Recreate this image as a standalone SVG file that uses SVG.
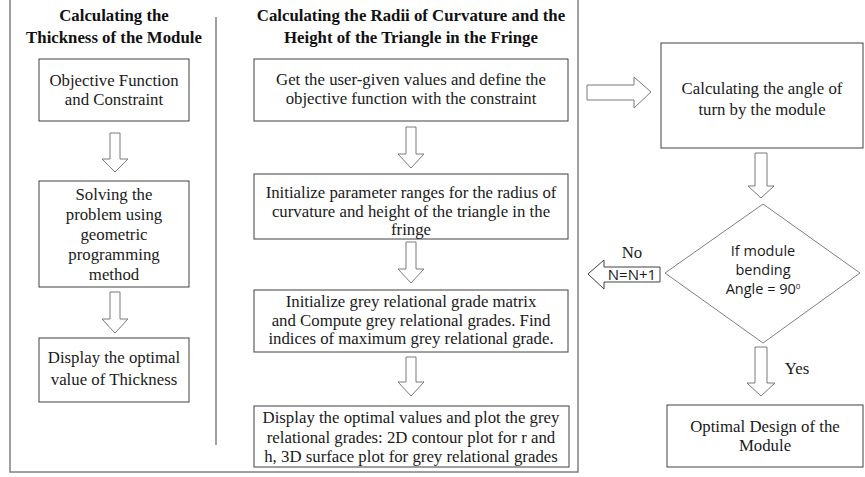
<svg xmlns="http://www.w3.org/2000/svg" width="865" height="477" viewBox="0 0 865 477">
<style>
.bg{fill:#ffffff}
.frame{fill:none;stroke:#808080;stroke-width:1.5}
.box{fill:#ffffff;stroke:#404040;stroke-width:1}
.arr{fill:#ffffff;stroke:#7a7a7a;stroke-width:1}
.dia{fill:#ffffff;stroke:#808080;stroke-width:1}
.t{font-family:"Liberation Serif","Times New Roman",serif;font-size:16.8px;fill:#1a1a1a;text-anchor:middle}
.h{font-family:"Liberation Serif","Times New Roman",serif;font-size:16.8px;font-weight:bold;fill:#111;text-anchor:middle}
.s{font-family:"Open Sans","Liberation Sans",sans-serif;font-size:14.5px;fill:#1a1a1a;text-anchor:middle}
</style>
<rect class="bg" x="0" y="0" width="865" height="477"/>
<g id="frame">
<rect class="frame" x="10" y="-2" width="568" height="474"/>
<line class="frame" x1="216" y1="17" x2="216" y2="445"/>
</g>
<g id="titles">
<text class="h" x="114" y="21">Calculating the</text>
<text class="h" x="114" y="43">Thickness of the Module</text>
<text class="h" x="411" y="21">Calculating the Radii of Curvature and the</text>
<text class="h" x="411" y="43">Height of the Triangle in the Fringe</text>
</g>
<g id="L1"><rect class="box" x="39" y="59" width="150" height="62"/>
<text class="t" x="114" y="86">Objective Function</text>
<text class="t" x="114" y="105">and Constraint</text></g>
<g id="L2"><rect class="box" x="39" y="181" width="150" height="106"/>
<text class="t" x="114" y="200">Solving  the</text>
<text class="t" x="114" y="220">problem using</text>
<text class="t" x="114" y="240">geometric</text>
<text class="t" x="114" y="260">programming</text>
<text class="t" x="114" y="280">method</text></g>
<g id="L3"><rect class="box" x="39" y="338" width="150" height="64"/>
<text class="t" x="114" y="363">Display  the optimal</text>
<text class="t" x="114" y="385">value of Thickness</text></g>
<g id="M1"><rect class="box" x="254" y="59" width="314" height="62"/>
<text class="t" x="411" y="85">Get the user-given values and define the</text>
<text class="t" x="411" y="104">objective function with the constraint</text></g>
<g id="M2"><rect class="box" x="254" y="174" width="314" height="65"/>
<text class="t" x="411" y="198">Initialize parameter ranges for the radius of</text>
<text class="t" x="411" y="217">curvature and height of the triangle in the</text>
<text class="t" x="411" y="235">fringe</text></g>
<g id="M3"><rect class="box" x="254" y="290" width="314" height="62"/>
<text class="t" x="411" y="307">Initialize grey relational grade matrix</text>
<text class="t" x="411" y="326">and  Compute grey relational grades. Find</text>
<text class="t" x="411" y="344">indices of maximum grey relational grade.</text></g>
<g id="M4"><rect class="box" x="254" y="406" width="315" height="61"/>
<text class="t" x="411" y="423">Display  the optimal values and plot the grey</text>
<text class="t" x="411" y="443">relational grades: 2D contour plot for r and</text>
<text class="t" x="411" y="462">h, 3D surface plot for grey relational grades</text></g>
<g id="R1"><rect class="box" x="661" y="43" width="202" height="105"/>
<text class="t" x="762" y="94">Calculating the angle of</text>
<text class="t" x="762" y="115">turn by the module</text></g>
<g id="D1"><polygon class="dia" points="763,204 860,273 763,343 665,273"/>
<text class="s" x="763" y="256">If module</text>
<text class="s" x="763" y="275">bending</text>
<text class="s" x="763" y="294">Angle = 90<tspan font-size="8" dy="-5">0</tspan></text></g>
<g id="R2"><rect class="box" x="667" y="405" width="196" height="62"/>
<text class="t" x="765" y="432">Optimal Design of the</text>
<text class="t" x="765" y="451">Module</text></g>
<g id="connectors">
<polygon class="arr" points="110,133 120,133 120,159 128,159 115,172 102,159 110,159"/>
<polygon class="arr" points="110,292 120,292 120,319 128,319 115,333 102,319 110,319"/>
<polygon class="arr" points="406,127 416,127 416,154 424,154 411,168 398,154 406,154"/>
<polygon class="arr" points="406,242 416,242 416,269 424,269 411,283 398,269 406,269"/>
<polygon class="arr" points="406,357 416,357 416,382 424,382 411,396 398,382 406,382"/>
<polygon class="arr" points="587,85 634,85 634,77 651,92 634,108 634,100 587,100"/>
<polygon class="arr" points="755,153 767,153 767,186 774,186 761,198 748,186 755,186"/>
<polygon class="arr" points="755,347 767,347 767,383 775,383 761,396 747,383 755,383"/>
<polygon class="box" points="588,274 604,260 604,267 660,267 660,282 604,282 604,289"/>
<text class="s" x="632" y="280" style="font-size:15px">N=N+1</text>
<text class="t" x="632" y="258">No</text>
<text class="t" x="797" y="374">Yes</text>
</g>
</svg>
